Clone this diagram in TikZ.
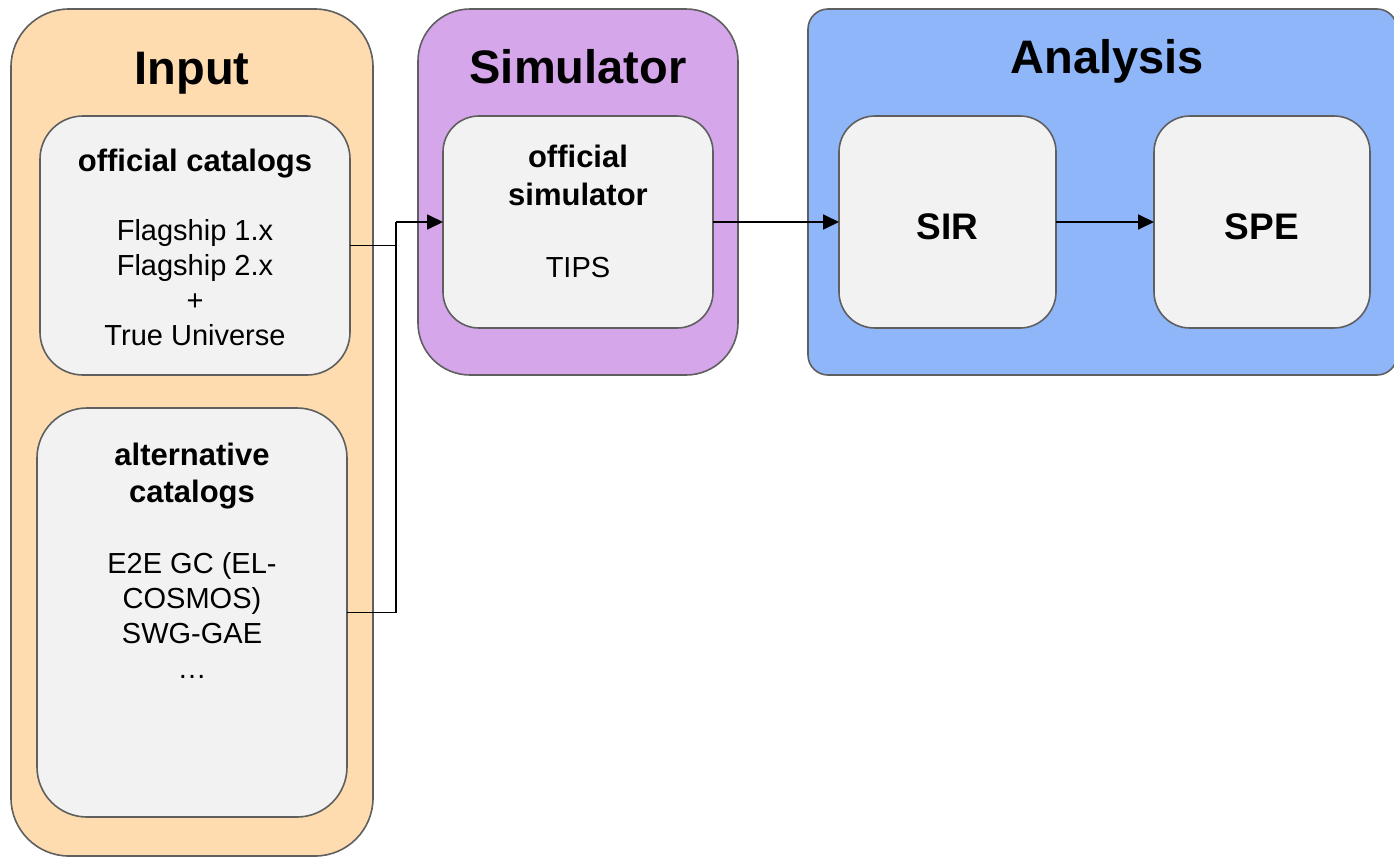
\documentclass[tikz,border=0pt]{standalone}
\usepackage{fontspec}
\setmainfont{Liberation Sans}
\usetikzlibrary{arrows.meta}
\definecolor{inputfill}{HTML}{FEDCB0}
\definecolor{simfill}{HTML}{D5A6EA}
\definecolor{anafill}{HTML}{8EB6F9}
\definecolor{boxfill}{HTML}{F2F2F2}
\definecolor{edgegray}{HTML}{5F5F5F}
\tikzset{
  container/.style={draw=edgegray, line width=1.6pt, inner sep=0pt, outer sep=0pt},
  stage/.style={draw=edgegray, fill=boxfill, line width=1.6pt, inner sep=0pt, outer sep=0pt},
  heading/.style={font=\fontsize{47}{56}\selectfont\bfseries, anchor=base, inner sep=0pt},
  % multi-line texts are anchored at the baseline of their last line
  boxhead/.style={font=\fontsize{31}{38}\selectfont\bfseries, anchor=base, inner sep=0pt, align=center},
  boxbody/.style={font=\fontsize{29}{35}\selectfont, anchor=base, inner sep=0pt, align=center},
  flow/.style={draw=black, line width=1.8pt, -{Triangle[length=16pt,width=15pt]}},
  link/.style={draw=black, line width=1.8pt},
}
\begin{document}
\begin{tikzpicture}[x=1pt, y=-1pt]
\path[use as bounding box] (0,0) rectangle (1394,857);
\clip (0,0) rectangle (1394,857);

% --- Input column ---
\node[container, fill=inputfill, rounded corners=58pt,
      minimum width=362pt, minimum height=847pt] (input) at (192,432.5) {};
\node[heading] (inputtitle) at (192,84) {Input};

\node[stage, rounded corners=43pt, minimum width=310pt, minimum height=259pt]
  (oc) at (195,245.5) {};
\node[boxhead] (octitle) at (195,171) {official catalogs};
\node[boxbody] (ocbody) at (195,345) {Flagship 1.x\\Flagship 2.x\\+\\True Universe};

\node[stage, rounded corners=50pt, minimum width=310pt, minimum height=409pt]
  (ac) at (192,612.5) {};
\node[boxhead, font=\fontsize{31}{37}\selectfont\bfseries] (actitle) at (192,502) {alternative\\catalogs};
\node[boxbody] (acbody) at (192,678) {E2E GC (EL-\\COSMOS)\\SWG-GAE\\…};

% --- Simulator column ---
\node[container, fill=simfill, rounded corners=52pt,
      minimum width=320pt, minimum height=366pt] (sim) at (578,192) {};
\node[heading] (simtitle) at (578,83) {Simulator};

\node[stage, rounded corners=36pt, minimum width=270pt, minimum height=212pt]
  (os) at (578,222) {};
\node[boxhead] (ostitle) at (578,205) {official\\simulator};
\node[boxbody] (osbody) at (578,277) {TIPS};

% --- Analysis column ---
\node[container, fill=anafill, rounded corners=20pt,
      minimum width=589pt, minimum height=366pt] (ana) at (1102.5,192) {};
\node[heading] (anatitle) at (1107,73) {Analysis};

\node[stage, rounded corners=36pt, minimum width=217pt, minimum height=212pt]
  (sir) at (947.5,222) {};
\node[boxhead, font=\fontsize{37}{44}\selectfont\bfseries] (sirtext) at (947.5,239) {SIR};

\node[stage, rounded corners=36pt, minimum width=216pt, minimum height=212pt]
  (spe) at (1262,222) {};
\node[boxhead, font=\fontsize{37}{44}\selectfont\bfseries] (spetext) at (1262,239) {SPE};

% --- connectors ---
\coordinate (join) at (396,222);
\draw[link] (oc.east) -| (join);
\draw[link] (ac.east) -| (join);
\draw[flow] (join) -- (os.west);
\draw[flow] (os.east) -- (sir.west);
\draw[flow] (sir.east) -- (spe.west);
\end{tikzpicture}
\end{document}
